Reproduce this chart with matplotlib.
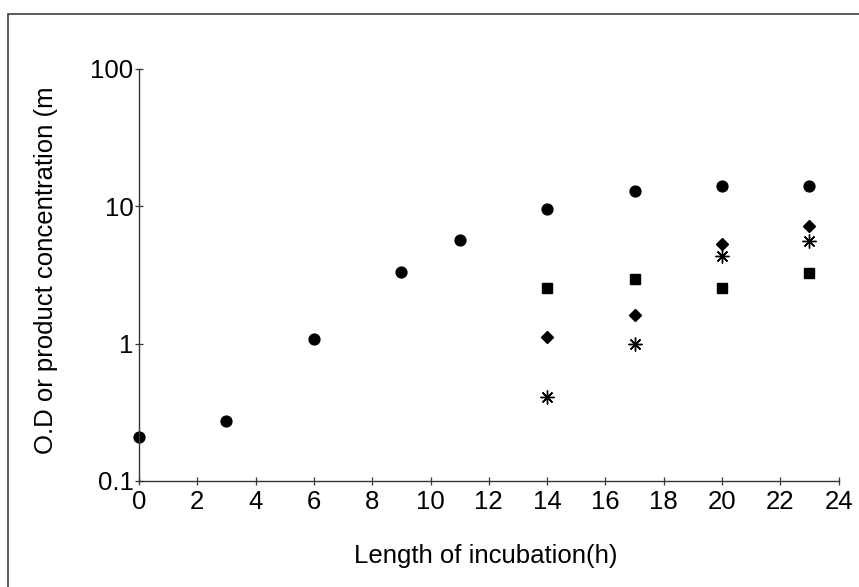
import matplotlib.pyplot as plt
from matplotlib.patches import Rectangle

plt.rcParams['font.family'] = ['Liberation Sans', 'DejaVu Sans']

# O.D / product concentration vs incubation time
od_hours = [0, 3, 6, 9, 11, 14, 17, 20, 23]
od_values = [0.21, 0.275, 1.09, 3.3, 5.7, 9.6, 13.0, 14.0, 14.0]

prod_hours = [14, 17, 20, 23]
square_values = [2.55, 2.95, 2.55, 3.25]
diamond_values = [1.11, 1.61, 5.35, 7.25]
star_values = [0.41, 1.0, 4.35, 5.55]

x_ticks = list(range(0, 25, 2))
y_ticks = [0.1, 1, 10, 100]
y_tick_labels = ['0.1', '1', '10', '100']

fig = plt.figure(figsize=(8.59, 5.87), dpi=100)
ax = fig.add_axes([139 / 859, 1 - 481 / 587, (838.6 - 139) / 859, (481 - 69) / 587])

ax.plot(od_hours, od_values, 'o', color='black', markersize=7.8, clip_on=False)
ax.plot(prod_hours, square_values, 's', color='black', markersize=6.5, clip_on=False)
ax.plot(prod_hours, diamond_values, 'D', color='black', markersize=6.3, clip_on=False)
ax.plot(prod_hours, star_values, marker=(8, 2, 0), linestyle='none', color='black',
        markersize=10, markeredgewidth=1.0, clip_on=False)

ax.set_yscale('log')
ax.set_xlim(0, 24)
ax.set_ylim(0.1, 100)
ax.set_xticks(x_ticks)
ax.set_yticks(y_ticks)
ax.set_yticklabels(y_tick_labels)
ax.minorticks_off()

for side in ['top', 'right']:
    ax.spines[side].set_visible(False)
for side in ['left', 'bottom']:
    ax.spines[side].set_color('#333333')
    ax.spines[side].set_linewidth(1.0)

ax.tick_params(axis='both', direction='inout', length=6, width=0.9, color='#333333',
               labelsize=18.5, labelcolor='black')
ax.tick_params(axis='x', pad=3.5)
ax.tick_params(axis='y', pad=1)

fig.text(486 / 859, 1 - 563 / 587, 'Length of incubation(h)',
         fontsize=18.5, ha='center', va='baseline')
fig.text(46 / 859, 1 - 270 / 587, 'O.D or product concentration (m',
         fontsize=18.5, rotation=90, ha='center', va='center')

# outer frame (only top and left edges fall inside the image)
fig.patches.append(Rectangle((8 / 859, -0.1), 1.2, 1 - 13.5 / 587 + 0.1,
                             transform=fig.transFigure, fill=False,
                             edgecolor='#404040', linewidth=1.2))

fig.savefig('out.png', dpi=100)
